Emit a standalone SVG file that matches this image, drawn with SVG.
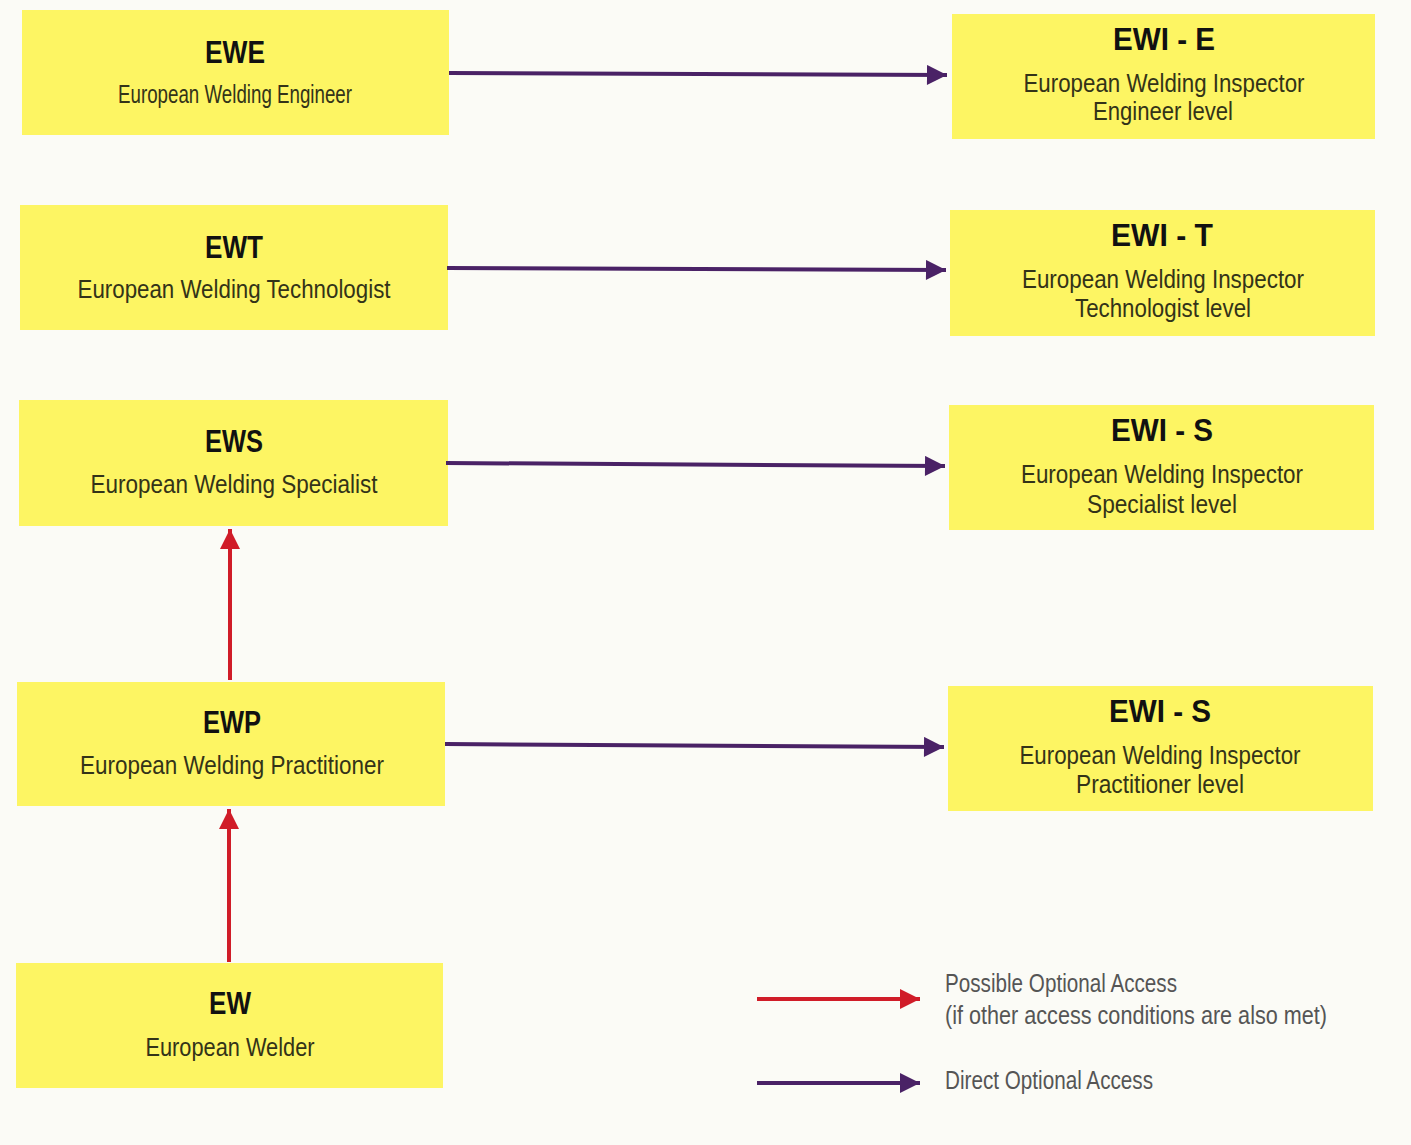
<svg xmlns="http://www.w3.org/2000/svg" width="1411" height="1145" viewBox="0 0 1411 1145">
<style>
.box{fill:#fdf563}
.t{font-family:"Liberation Sans",Arial,sans-serif;font-weight:bold;font-size:31px;fill:#111;text-anchor:middle}
.s{font-family:"Liberation Sans",Arial,sans-serif;font-size:25px;fill:#333318;text-anchor:middle}
.l{font-family:"Liberation Sans",Arial,sans-serif;font-size:25px;fill:#555;}
.p{stroke:#4a2266;stroke-width:4;fill:none}
.r{stroke:#d01c28;stroke-width:4;fill:none}
</style>
<defs>
<marker id="ap" viewBox="0 0 10 10" refX="10" refY="5" markerWidth="7" markerHeight="5" markerUnits="strokeWidth" orient="auto"><path d="M0,0L10,5L0,10z" fill="#4a2266"/></marker>
<marker id="ar" viewBox="0 0 10 10" refX="10" refY="5" markerWidth="7" markerHeight="5" markerUnits="strokeWidth" orient="auto"><path d="M0,0L10,5L0,10z" fill="#d01c28"/></marker>
</defs>
<rect width="1411" height="1145" fill="#fbfbf6"/>
<g id="EWE"><rect class="box" x="22" y="10" width="427" height="125"/><text class="t" x="235" y="63" textLength="60" lengthAdjust="spacingAndGlyphs">EWE</text><text class="s" x="235" y="103" textLength="234" lengthAdjust="spacingAndGlyphs">European Welding Engineer</text></g>
<g id="EWT"><rect class="box" x="20" y="205" width="428" height="125"/><text class="t" x="234" y="258" textLength="58" lengthAdjust="spacingAndGlyphs">EWT</text><text class="s" x="234" y="298" textLength="313" lengthAdjust="spacingAndGlyphs">European  Welding  Technologist</text></g>
<g id="EWS"><rect class="box" x="19" y="400" width="429" height="126"/><text class="t" x="234" y="452" textLength="58" lengthAdjust="spacingAndGlyphs">EWS</text><text class="s" x="234" y="493" textLength="287" lengthAdjust="spacingAndGlyphs">European  Welding  Specialist</text></g>
<g id="EWP"><rect class="box" x="17" y="682" width="428" height="124"/><text class="t" x="232" y="733" textLength="58" lengthAdjust="spacingAndGlyphs">EWP</text><text class="s" x="232" y="774" textLength="304" lengthAdjust="spacingAndGlyphs">European  Welding  Practitioner</text></g>
<g id="EW"><rect class="box" x="16" y="963" width="427" height="125"/><text class="t" x="230" y="1014" textLength="42" lengthAdjust="spacingAndGlyphs">EW</text><text class="s" x="230" y="1056" textLength="169" lengthAdjust="spacingAndGlyphs">European  Welder</text></g>
<g id="EWI-E"><rect class="box" x="952" y="14" width="423" height="125"/><text class="t" x="1164" y="50" textLength="102" lengthAdjust="spacingAndGlyphs">EWI - E</text><text class="s" x="1164" y="92" textLength="281" lengthAdjust="spacingAndGlyphs">European  Welding  Inspector</text><text class="s" x="1163" y="120" textLength="140" lengthAdjust="spacingAndGlyphs">Engineer  level</text></g>
<g id="EWI-T"><rect class="box" x="950" y="210" width="425" height="126"/><text class="t" x="1162" y="246" textLength="102" lengthAdjust="spacingAndGlyphs">EWI - T</text><text class="s" x="1163" y="288" textLength="282" lengthAdjust="spacingAndGlyphs">European  Welding  Inspector</text><text class="s" x="1163" y="317" textLength="176" lengthAdjust="spacingAndGlyphs">Technologist  level</text></g>
<g id="EWI-S"><rect class="box" x="949" y="405" width="425" height="125"/><text class="t" x="1162" y="441" textLength="102" lengthAdjust="spacingAndGlyphs">EWI - S</text><text class="s" x="1162" y="483" textLength="282" lengthAdjust="spacingAndGlyphs">European  Welding  Inspector</text><text class="s" x="1162" y="513" textLength="150" lengthAdjust="spacingAndGlyphs">Specialist  level</text></g>
<g id="EWI-S-P"><rect class="box" x="948" y="686" width="425" height="125"/><text class="t" x="1160" y="722" textLength="102" lengthAdjust="spacingAndGlyphs">EWI - S</text><text class="s" x="1160" y="764" textLength="281" lengthAdjust="spacingAndGlyphs">European  Welding  Inspector</text><text class="s" x="1160" y="793" textLength="168" lengthAdjust="spacingAndGlyphs">Practitioner  level</text></g>
<g id="connectors">
<line class="p" x1="449" y1="73" x2="947" y2="75" marker-end="url(#ap)"/>
<line class="p" x1="447" y1="268" x2="946" y2="270" marker-end="url(#ap)"/>
<line class="p" x1="446" y1="463" x2="945" y2="466" marker-end="url(#ap)"/>
<line class="p" x1="445" y1="744" x2="944" y2="747" marker-end="url(#ap)"/>
<line class="r" x1="230" y1="680" x2="230" y2="529" marker-end="url(#ar)"/>
<line class="r" x1="229" y1="962" x2="229" y2="809" marker-end="url(#ar)"/>
</g>
<g id="legend">
<line class="r" x1="757" y1="999" x2="920" y2="999" marker-end="url(#ar)"/>
<line class="p" x1="757" y1="1083" x2="920" y2="1083" marker-end="url(#ap)"/>
<text class="l" x="945" y="992" textLength="232" lengthAdjust="spacingAndGlyphs">Possible Optional Access</text>
<text class="l" x="945" y="1024" textLength="382" lengthAdjust="spacingAndGlyphs">(if other access conditions are also met)</text>
<text class="l" x="945" y="1089" textLength="208" lengthAdjust="spacingAndGlyphs">Direct Optional Access</text>
</g>
</svg>
